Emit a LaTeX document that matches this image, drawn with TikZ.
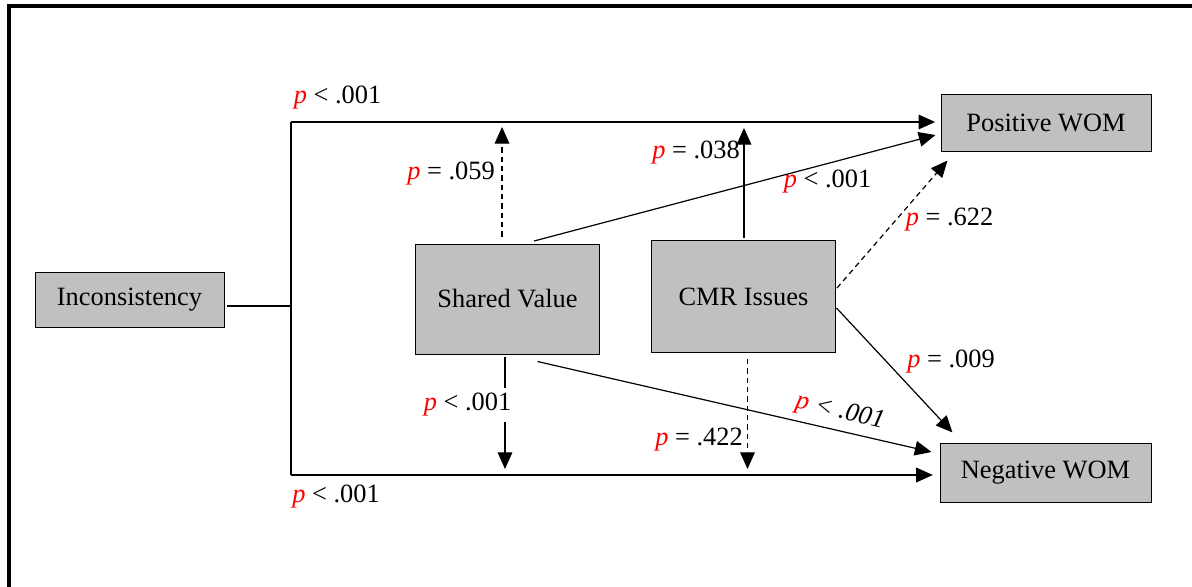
\documentclass[tikz,border=0pt]{standalone}
\usepackage{fontspec}
\setmainfont{Liberation Serif}
\usepackage{tikz}
\usetikzlibrary{arrows.meta,calc,positioning}
\usepackage{xcolor}
\definecolor{boxgray}{RGB}{192,192,192}
\tikzstyle{model}=[
  >={Triangle[length=12.5pt,width=11pt]}, x=0.75pt, y=-0.75pt,
  line width=0.9pt, font=\fontsize{19.8}{23}\selectfont
]
\tikzstyle{construct}=[
  draw, fill=boxgray, line width=0.75pt, inner sep=0pt
]
\tikzstyle{effect}=[
  ->, line width=0.9pt
]
\tikzstyle{nseffect}=[
  ->, line width=0.9pt, dash pattern=on 4pt off 3pt
]
\tikzstyle{pval}=[
  inner sep=1pt
]
\newcommand{\pv}[1]{{\color{red}\textit{p}} #1}

\begin{document}
\begin{tikzpicture}[model]
    \useasboundingbox (0,0) rectangle (1192,586);
    \draw[line width=2.4pt] (9,600) -- (9,6) -- (1200,6);

    \node (inc) at (129.5,299.5) [construct, minimum width=141.75pt, minimum height=41.25pt] {Inconsistency};
    \node (sv) at (507.5,299) [construct, minimum width=138pt, minimum height=82.5pt] {Shared Value};
    \node (cmr) at (743.5,296.5) [construct, minimum width=138pt, minimum height=84pt] {CMR Issues};
    \node (pos) at (1046,122.5) [construct, minimum width=157.5pt, minimum height=42.75pt] {Positive WOM};
    \node (neg) at (1045.5,472.5) [construct, minimum width=158.25pt, minimum height=44.25pt] {Negative WOM};

    \coordinate (split) at (291,306);
    \coordinate (toprail) at (291,122);
    \coordinate (botrail) at (291,475);

    % direct paths
    \draw [shorten <=2pt] (inc.east |- split) -- (split);
    \draw (toprail) -- (botrail);
    \draw [effect, shorten >=4pt] (toprail) -- (toprail -| pos.west);
    \draw [effect, shorten >=5pt] (botrail) -- (botrail -| neg.west);

    % moderators
    \draw [nseffect] ($(sv.north)+(-5.5,-7)$) -- ($(sv.north |- toprail)+(-5.5,5)$);
    \draw [effect] ($(cmr.north)+(0.5,-2)$) -- ($(cmr.north |- toprail)+(0.5,6)$);
    \draw [effect] ($(sv.south)+(-2.5,2)$) -- ($(sv.south |- botrail)+(-2.5,-6)$);
    \draw [nseffect] ($(cmr.south)+(4,6)$) -- ($(cmr.south |- botrail)+(4,-6)$);

    % to outcomes
    \draw [effect] ($(sv.north)+(26.5,-2.5)$) -- ($(pos.west)+(-5,12.5)$);
    \draw [nseffect] ($(cmr.east)+(1,-8.5)$) -- ($(pos.south west)+(7,9)$);
    \draw [effect] ($(cmr.east)+(0.5,11.5)$) -- ($(neg.north west)+(13,-10)$);
    \draw [effect] ($(sv.south)+(30,7)$) -- ($(neg.west)+(-8,-20.5)$);

    \node (pTop) at (337.5,98) [pval] {\pv{< .001}};
    \node (pSvUp) at (451,174) [pval] {\pv{= .059}};
    \node (pCmrUp) at (696,153) [pval] {\pv{= .038}};
    \node (pSvPos) at (827.5,182) [pval] {\pv{< .001}};
    \node (pCmrPos) at (949.5,220) [pval] {\pv{= .622}};
    \node (pCmrNeg) at (951,362) [pval] {\pv{= .009}};
    \node (pSvNeg) at (840,412) [pval, rotate=-13] {{\color{red}\textit{p}} \textit{< .001}};
    \node (pCmrDn) at (699,440) [pval] {\pv{= .422}};
    \node (pSvDn) at (467.5,405) [pval, fill=white, inner sep=4pt] {\pv{< .001}};
    \node (pBot) at (336,497) [pval] {\pv{< .001}};

\end{tikzpicture}
\end{document}
